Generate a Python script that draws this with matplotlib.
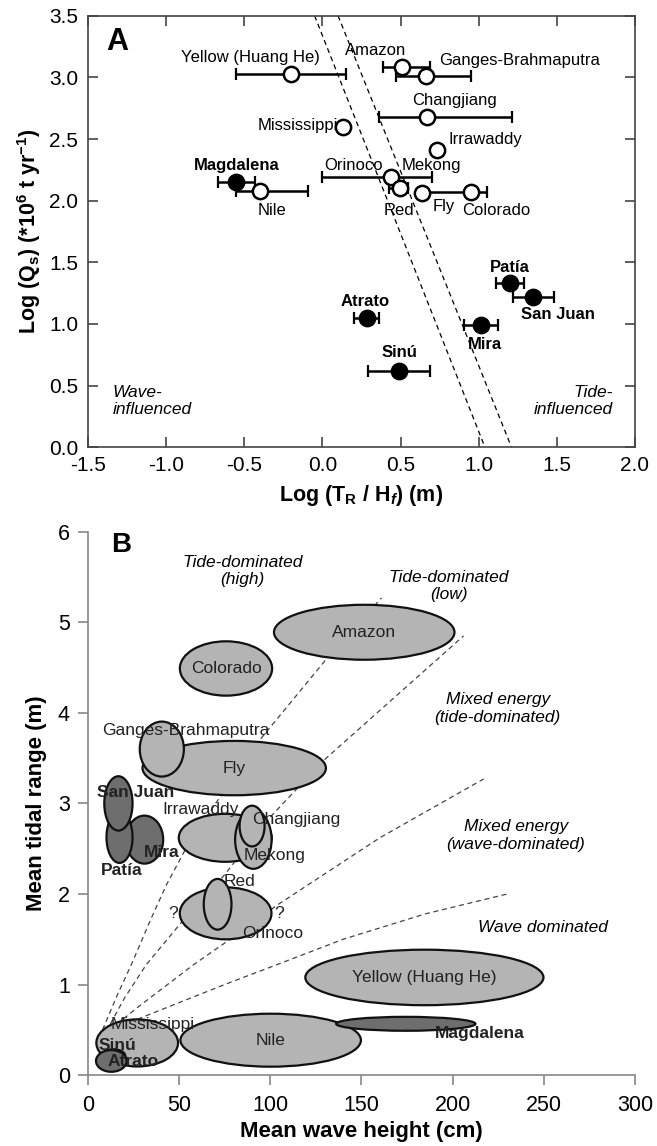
import numpy as np
import matplotlib
matplotlib.use("Agg")
import matplotlib.pyplot as plt
from matplotlib.patches import Ellipse

plt.rcParams['font.family'] = ['Liberation Sans', 'DejaVu Sans']
plt.rcParams['mathtext.fontset'] = 'custom'
plt.rcParams['mathtext.rm'] = 'Liberation Sans:bold'
plt.rcParams['mathtext.it'] = 'Liberation Sans:italic:bold'

# ---- panel A data: log(TR/Hf) vs log(Qs)
open_names = ["Yellow (Huang He)", "Amazon", "Ganges-Brahmaputra", "Changjiang", "Mississippi",
              "Irrawaddy", "Nile", "Orinoco", "Red", "Fly", "Colorado"]
open_x = [-0.20, 0.51, 0.66, 0.67, 0.13, 0.73, -0.40, 0.44, 0.495, 0.64, 0.95]
open_y = [3.03, 3.08, 3.01, 2.68, 2.60, 2.41, 2.08, 2.195, 2.10, 2.065, 2.07]
open_err_lo = [0.35, 0.12, 0.19, 0.31, 0.0, 0.0, 0.15, 0.44, 0.07, 0.0, 0.31]
open_err_hi = [0.35, 0.18, 0.29, 0.54, 0.0, 0.0, 0.31, 0.26, 0.05, 0.0, 0.10]

col_names = ["Magdalena", "Patía", "San Juan", "Atrato", "Mira", "Sinú"]
col_x = [-0.55, 1.20, 1.35, 0.285, 1.015, 0.49]
col_y = [2.155, 1.33, 1.215, 1.05, 0.99, 0.62]
col_err = [0.12, 0.09, 0.13, 0.08, 0.11, 0.20]

# wave/tide boundary (dashed)
bound1_x = [-0.05, 1.04]
bound2_x = [0.10, 1.21]
bound_y = [3.5, 0.0]

# ---- panel B data: mean wave height (cm) vs mean tidal range (m), ellipses
ell_names = ["Amazon", "Colorado", "Fly", "Ganges-Brahmaputra", "Irrawaddy", "Mekong", "Changjiang",
             "Orinoco", "Red", "Mira", "Patía", "San Juan", "Yellow (Huang He)", "Nile", "Magdalena",
             "Mississippi", "Sinú", "Atrato"]
ell_x = [151.5, 75.7, 80.2, 40.5, 75.3, 90.7, 90.0, 75.5, 71.1, 31.0, 17.3, 16.7, 184.5, 100.2, 174.3,
         27.0, 14.0, 12.8]
ell_y = [4.89, 4.49, 3.39, 3.60, 2.62, 2.60, 2.75, 1.786, 1.886, 2.60, 2.625, 3.0, 1.078, 0.385, 0.566,
         0.355, 0.21, 0.156]
ell_w = [99, 50.6, 100.6, 24.2, 51, 20.0, 13.7, 50.3, 15.2, 20.5, 14.3, 15.5, 130.6, 99, 76.4,
         44.8, 13, 16.8]
ell_h = [0.607, 0.60, 0.60, 0.607, 0.53, 0.645, 0.45, 0.574, 0.56, 0.53, 0.565, 0.60, 0.613, 0.585, 0.154,
         0.52, 0.15, 0.24]
colombian = ["Mira", "Patía", "San Juan", "Magdalena", "Sinú", "Atrato"]

# dashed class boundaries
curve1_x = [8, 16, 24, 34, 43, 55, 70, 95, 131, 161]
curve1_y = [0.50, 0.88, 1.23, 1.70, 2.10, 2.55, 3.00, 3.72, 4.60, 5.27]
curve2_x = [10, 20, 32, 51, 74, 100, 129, 206]
curve2_y = [0.48, 0.85, 1.22, 1.68, 2.19, 2.85, 3.47, 4.85]
curve3_x = [12, 28, 58, 78, 104, 160, 217]
curve3_y = [0.50, 0.76, 1.22, 1.50, 1.88, 2.62, 3.27]
curve4_x = [14, 30, 50, 75, 105, 140, 185, 230]
curve4_y = [0.50, 0.64, 0.80, 1.00, 1.23, 1.50, 1.78, 2.00]

fig = plt.figure(figsize=(6.57, 11.46), dpi=100)

# ================= panel A
ax = fig.add_axes([0.1339, 0.6097, 0.8326, 0.3766])
ax.plot(bound1_x, bound_y, color='k', lw=0.9, ls=(0, (4, 3)), zorder=1)
ax.plot(bound2_x, bound_y, color='k', lw=0.9, ls=(0, (4, 3)), zorder=1)

ox = np.array(open_x)
oy = np.array(open_y)
lo = np.array(open_err_lo)
hi = np.array(open_err_hi)
has = (lo + hi) > 0
ax.errorbar(ox[has], oy[has], xerr=[lo[has], hi[has]], fmt='none', ecolor='k',
            elinewidth=1.8, capsize=4.5, capthick=1.6, zorder=2)
ax.errorbar(col_x, col_y, xerr=col_err, fmt='none', ecolor='k',
            elinewidth=1.8, capsize=4.5, capthick=1.6, zorder=2)
ax.plot(ox, oy, 'o', ms=11, mfc='white', mec='k', mew=1.8, ls='none', zorder=3)
ax.plot(col_x, col_y, 'o', ms=11, mfc='k', mec='k', mew=1.8, ls='none', zorder=3)

# labels: (text, x, y, ha, bold)
labels_a = [
    ("Yellow (Huang He)", -0.015, 3.16, 'right', False),
    ("Amazon", 0.34, 3.215, 'center', False),
    ("Ganges-Brahmaputra", 0.745, 3.14, 'left', False),
    ("Changjiang", 0.845, 2.81, 'center', False),
    ("Mississippi", 0.10, 2.61, 'right', False),
    ("Irrawaddy", 1.04, 2.495, 'center', False),
    ("Magdalena", -0.55, 2.285, 'center', True),
    ("Nile", -0.32, 1.92, 'center', False),
    ("Orinoco", 0.20, 2.285, 'center', False),
    ("Mekong", 0.70, 2.285, 'center', False),
    ("Red", 0.49, 1.92, 'center', False),
    ("Fly", 0.775, 1.955, 'center', False),
    ("Colorado", 1.11, 1.92, 'center', False),
    ("Patía", 1.20, 1.46, 'center', True),
    ("San Juan", 1.51, 1.08, 'center', True),
    ("Atrato", 0.275, 1.18, 'center', True),
    ("Mira", 1.04, 0.83, 'center', True),
    ("Sinú", 0.49, 0.765, 'center', True),
]
for t, x, y, ha, b in labels_a:
    ax.text(x, y, t, ha=ha, va='center', fontsize=12, fontweight='bold' if b else 'normal')

ax.text(-1.34, 0.375, "Wave-\ninfluenced", ha='left', va='center', fontsize=12.5,
        style='italic', linespacing=1.15)
ax.text(1.86, 0.375, "Tide-\ninfluenced", ha='right', va='center', fontsize=12.5,
        style='italic', linespacing=1.15, multialignment='right')
ax.text(-1.31, 3.29, "A", ha='center', va='center', fontsize=22, fontweight='bold')

ax.set_xlim(-1.5, 2.0)
ax.set_ylim(0, 3.5)
ax.set_xticks(np.arange(-1.5, 2.01, 0.5))
ax.set_yticks(np.arange(0, 3.51, 0.5))
ax.xaxis.set_major_formatter(matplotlib.ticker.FormatStrFormatter('%.1f'))
ax.yaxis.set_major_formatter(matplotlib.ticker.FormatStrFormatter('%.1f'))
ax.tick_params(direction='in', length=7, width=1.2, color='#444444', labelsize=15,
               top=True, right=True)
ax.tick_params(axis='x', pad=6)
ax.tick_params(axis='y', pad=7)
for s in ax.spines.values():
    s.set_color('#444444')
    s.set_linewidth(1.2)
ax.set_xlabel(r"Log (T$_\mathrm{R}$ / H$_\mathit{f}$) (m)", fontsize=15.5, fontweight='bold', labelpad=6)
ax.set_ylabel(r"Log (Q$_\mathrm{s}$) (*10$^\mathrm{6}$ t yr$^{\mathrm{-1}}$)", fontsize=15.5,
              fontweight='bold', labelpad=4)

# ================= panel B
bx = fig.add_axes([0.1339, 0.0619, 0.8326, 0.4741])
for cxs, cys in [(curve1_x, curve1_y), (curve2_x, curve2_y), (curve3_x, curve3_y), (curve4_x, curve4_y)]:
    bx.plot(cxs, cys, color='#444444', lw=0.9, ls=(0, (4, 3)), zorder=1)

for i in range(len(ell_names)):
    fc = '#6e6e6e' if ell_names[i] in colombian else '#b4b4b4'
    e = Ellipse((ell_x[i], ell_y[i]), ell_w[i], ell_h[i], facecolor=fc, edgecolor='#111111',
                lw=1.6, zorder=2 + i * 0.01)
    bx.add_patch(e)

labels_b = [
    ("Amazon", 151.5, 4.89, False),
    ("Colorado", 75.7, 4.49, False),
    ("Fly", 80.2, 3.39, False),
    ("Ganges-Brahmaputra", 53.5, 3.81, False),
    ("San Juan", 26, 3.12, True),
    ("Irrawaddy", 61.5, 2.93, False),
    ("Changjiang", 114, 2.82, False),
    ("Mekong", 102.6, 2.43, False),
    ("Mira", 40.2, 2.455, True),
    ("Patía", 18.7, 2.256, True),
    ("Red", 83, 2.14, False),
    ("?", 46.8, 1.786, False),
    ("?", 104.9, 1.786, False),
    ("Orinoco", 101.4, 1.565, False),
    ("Yellow (Huang He)", 184.5, 1.078, False),
    ("Nile", 100.2, 0.385, False),
    ("Magdalena", 215, 0.46, True),
    ("Mississippi", 35.4, 0.563, False),
    ("Sinú", 15.9, 0.331, True),
    ("Atrato", 24.7, 0.147, True),
]
for t, x, y, b in labels_b:
    bx.text(x, y, t, ha='center', va='center', fontsize=12.5, color='#222222',
            fontweight='bold' if b else 'normal', zorder=5)

regions = [
    ("Tide-dominated\n(high)", 84.7, 5.566),
    ("Tide-dominated\n(low)", 197.8, 5.40),
    ("Mixed energy\n(tide-dominated)", 224.7, 4.05),
    ("Mixed energy\n(wave-dominated)", 234.6, 2.644),
    ("Wave dominated", 249.6, 1.634),
]
for t, x, y in regions:
    bx.text(x, y, t, ha='center', va='center', fontsize=12.5, style='italic', linespacing=1.2)
bx.text(18, 5.85, "B", ha='center', va='center', fontsize=20, fontweight='bold')

bx.set_xlim(0, 300)
bx.set_ylim(0, 6)
bx.set_xticks(np.arange(0, 301, 50))
bx.set_yticks(np.arange(0, 7, 1))
bx.spines['top'].set_visible(False)
bx.spines['right'].set_visible(False)
for s in ['left', 'bottom']:
    bx.spines[s].set_color('#888888')
    bx.spines[s].set_linewidth(1.2)
bx.tick_params(direction='out', length=7, width=1.2, color='#888888', labelsize=15.5)
bx.tick_params(axis='x', pad=7)
bx.tick_params(axis='y', pad=6)
bx.set_xlabel("Mean wave height (cm)", fontsize=16, fontweight='bold', labelpad=4)
bx.set_ylabel("Mean tidal range (m)", fontsize=16, fontweight='bold', labelpad=8)

fig.savefig("out.png", dpi=100)
